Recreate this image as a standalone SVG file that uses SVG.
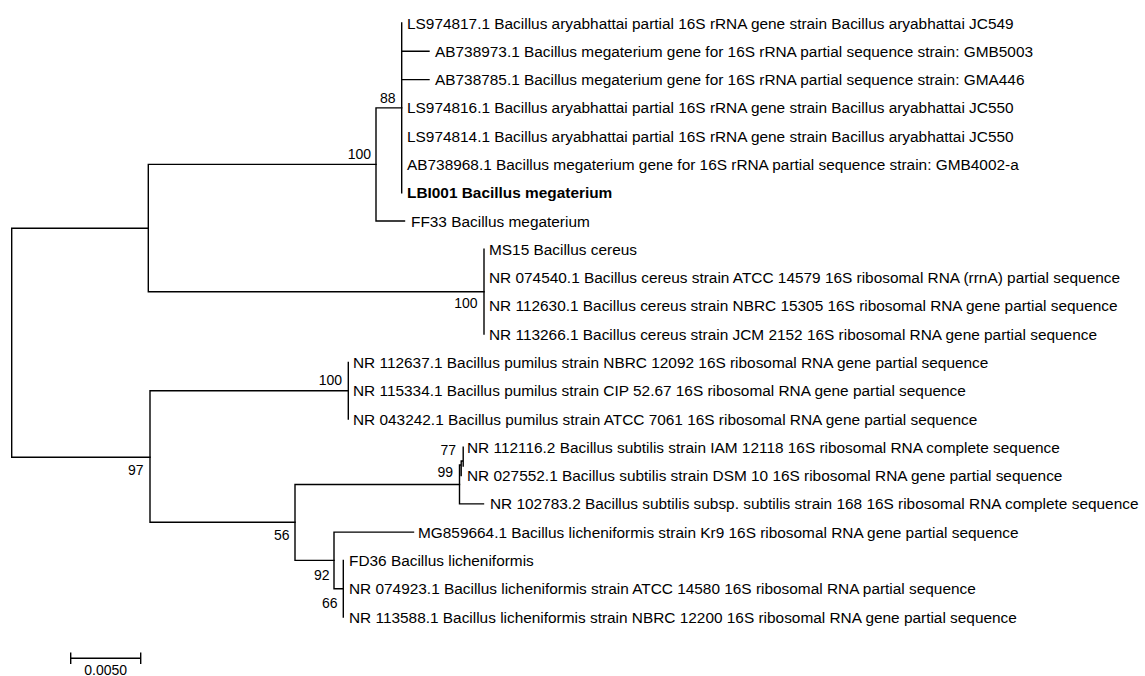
<svg xmlns="http://www.w3.org/2000/svg" width="1145" height="676" viewBox="0 0 1145 676">
<style>
.br{fill:none;stroke:#000;stroke-width:1.4;stroke-linecap:square}
.lf{font-family:"Liberation Sans",Arial,sans-serif;font-size:15.4px;fill:#000}
.b{font-weight:bold}
.bs{font-family:"Liberation Sans",Arial,sans-serif;font-size:14px;fill:#000;text-anchor:end}
.sc{font-family:"Liberation Sans",Arial,sans-serif;font-size:14px;fill:#000;text-anchor:middle}
</style>
<rect width="1145" height="676" fill="#fff"/>
<g id="connectors">
<path class="br" d="M11.7 228.3V457.3M11.7 228.3H148.3M11.7 457.3H150"/>
<path class="br" d="M148.3 164.4V291.7M148.3 164.4H376M148.3 291.7H484"/>
<path class="br" d="M376 107.9V221M376 107.9H401.7M376 221H404.5"/>
<path class="br" d="M401.7 23V192.7M401.7 51.3H429M401.7 79.6H429"/>
<path class="br" d="M484 249.3V334.1"/>
<path class="br" d="M150 390.7V522.2M150 390.7H348.3M150 522.2H295"/>
<path class="br" d="M348.3 362.4V419"/>
<path class="br" d="M295 484.5V560.4M295 484.5H459.5M295 560.4H334"/>
<path class="br" d="M459.5 465V503.9H483.5M459.5 465H461.2M461.2 461V475.6M461.2 461H463.2M463.2 447.3V466"/>
<path class="br" d="M334 532.1V588.7M334 532.1H413.5M334 588.7H343.3"/>
<path class="br" d="M343.3 560.4V617"/>
</g>
<g id="bootstrap">
<text class="bs" x="395.5" y="103.3">88</text>
<text class="bs" x="371" y="159">100</text>
<text class="bs" x="477.5" y="308">100</text>
<text class="bs" x="143.5" y="475">97</text>
<text class="bs" x="342" y="385">100</text>
<text class="bs" x="289.5" y="540">56</text>
<text class="bs" x="456" y="455">77</text>
<text class="bs" x="453" y="476.7">99</text>
<text class="bs" x="329.5" y="580">92</text>
<text class="bs" x="337.5" y="608">66</text>
</g>
<g id="leaf-LS974817"><text class="lf" x="407" y="28.5">LS974817.1 Bacillus aryabhattai partial 16S rRNA gene strain Bacillus aryabhattai JC549</text></g>
<g id="leaf-AB738973"><text class="lf" x="435" y="56.8">AB738973.1 Bacillus megaterium gene for 16S rRNA partial sequence strain: GMB5003</text></g>
<g id="leaf-AB738785"><text class="lf" x="435" y="85.1">AB738785.1 Bacillus megaterium gene for 16S rRNA partial sequence strain: GMA446</text></g>
<g id="leaf-LS974816"><text class="lf" x="407" y="113.4">LS974816.1 Bacillus aryabhattai partial 16S rRNA gene strain Bacillus aryabhattai JC550</text></g>
<g id="leaf-LS974814"><text class="lf" x="407" y="141.6">LS974814.1 Bacillus aryabhattai partial 16S rRNA gene strain Bacillus aryabhattai JC550</text></g>
<g id="leaf-AB738968"><text class="lf" x="407" y="169.9">AB738968.1 Bacillus megaterium gene for 16S rRNA partial sequence strain: GMB4002-a</text></g>
<g id="leaf-LBI001"><text class="lf b" x="407" y="198.2">LBI001 Bacillus megaterium</text></g>
<g id="leaf-FF33"><text class="lf" x="411" y="226.5">FF33 Bacillus megaterium</text></g>
<g id="leaf-MS15"><text class="lf" x="489" y="254.8">MS15 Bacillus cereus</text></g>
<g id="leaf-NR074540"><text class="lf" x="489" y="283.1">NR 074540.1 Bacillus cereus strain ATCC 14579 16S ribosomal RNA (rrnA) partial sequence</text></g>
<g id="leaf-NR112630"><text class="lf" x="489" y="311.4">NR 112630.1 Bacillus cereus strain NBRC 15305 16S ribosomal RNA gene partial sequence</text></g>
<g id="leaf-NR113266"><text class="lf" x="489" y="339.6">NR 113266.1 Bacillus cereus strain JCM 2152 16S ribosomal RNA gene partial sequence</text></g>
<g id="leaf-NR112637"><text class="lf" x="353" y="367.9">NR 112637.1 Bacillus pumilus strain NBRC 12092 16S ribosomal RNA gene partial sequence</text></g>
<g id="leaf-NR115334"><text class="lf" x="353" y="396.2">NR 115334.1 Bacillus pumilus strain CIP 52.67 16S ribosomal RNA gene partial sequence</text></g>
<g id="leaf-NR043242"><text class="lf" x="353" y="424.5">NR 043242.1 Bacillus pumilus strain ATCC 7061 16S ribosomal RNA gene partial sequence</text></g>
<g id="leaf-NR112116"><text class="lf" x="467" y="452.8">NR 112116.2 Bacillus subtilis strain IAM 12118 16S ribosomal RNA complete sequence</text></g>
<g id="leaf-NR027552"><text class="lf" x="467" y="481.1">NR 027552.1 Bacillus subtilis strain DSM 10 16S ribosomal RNA gene partial sequence</text></g>
<g id="leaf-NR102783"><text class="lf" x="490" y="509.4">NR 102783.2 Bacillus subtilis subsp. subtilis strain 168 16S ribosomal RNA complete sequence</text></g>
<g id="leaf-MG859664"><text class="lf" x="418" y="537.6">MG859664.1 Bacillus licheniformis strain Kr9 16S ribosomal RNA gene partial sequence</text></g>
<g id="leaf-FD36"><text class="lf" x="349" y="565.9">FD36 Bacillus licheniformis</text></g>
<g id="leaf-NR074923"><text class="lf" x="349" y="594.2">NR 074923.1 Bacillus licheniformis strain ATCC 14580 16S ribosomal RNA partial sequence</text></g>
<g id="leaf-NR113588"><text class="lf" x="349" y="622.5">NR 113588.1 Bacillus licheniformis strain NBRC 12200 16S ribosomal RNA gene partial sequence</text></g>
<g id="scale-bar">
<path class="br" d="M70.7 658.3H140.7M70.7 653.3V663.3M140.7 653.3V663.3"/>
<text class="sc" x="105.7" y="675">0.0050</text>
</g>
</svg>
